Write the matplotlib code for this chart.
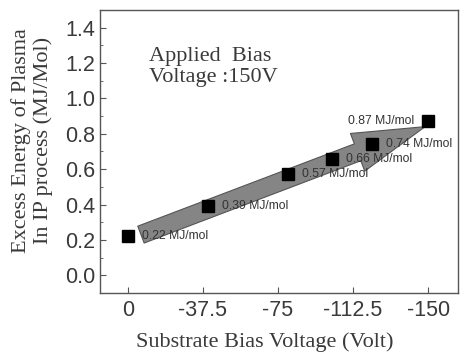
import matplotlib.pyplot as plt
from matplotlib.patches import FancyArrowPatch
from matplotlib.ticker import MultipleLocator

# data
bias_volt = [0, -40, -80, -102, -122, -150]
excess_energy = [0.22, 0.39, 0.57, 0.66, 0.74, 0.87]
point_labels = ["0.22 MJ/mol", "0.39 MJ/mol", "0.57 MJ/mol",
                "0.66 MJ/mol", "0.74 MJ/mol", "0.87 MJ/mol"]
xtick_vals = [0, -37.5, -75, -112.5, -150]
xtick_labels = ["0", "-37.5", "-75", "-112.5", "-150"]
ytick_vals = [0.0, 0.2, 0.4, 0.6, 0.8, 1.0, 1.2, 1.4]

serif = ["Liberation Serif", "DejaVu Serif"]
sans = ["Liberation Sans", "DejaVu Sans"]
txt_col = "#3a3a3a"

fig = plt.figure(figsize=(4.67, 3.64), dpi=100)
ax = fig.add_axes([0.214, 0.195, 0.767, 0.778])

ax.set_xlim(14, -165)
ax.set_ylim(-0.1, 1.5)

# big grey trend arrow
arrow = FancyArrowPatch((-6.5, 0.23), (-148.5, 0.84),
                        arrowstyle="simple,head_length=52,head_width=29,tail_width=13",
                        mutation_scale=1, shrinkA=0, shrinkB=0,
                        facecolor="#858585", edgecolor="#555555", linewidth=0.8, zorder=2)
ax.add_patch(arrow)

ax.plot(bias_volt, excess_energy, linestyle="none", marker="s", markersize=8,
        color="black", zorder=4)

# point labels: last one sits to the left of its marker
for i, (x, y, lab) in enumerate(zip(bias_volt, excess_energy, point_labels)):
    if i == len(bias_volt) - 1:
        ax.text(x + 7, y, lab, ha="right", va="center", fontsize=8.7,
                family=sans, color="#333333", zorder=5)
    else:
        ax.text(x - 7, y, lab, ha="left", va="center", fontsize=8.7,
                family=sans, color="#333333", zorder=5)

ax.text(-10.5, 1.29, "Applied  Bias\nVoltage :150V", ha="left", va="top",
        fontsize=16, family=serif, color=txt_col, linespacing=1.15)

ax.set_xticks(xtick_vals)
ax.set_xticklabels(xtick_labels)
ax.set_yticks(ytick_vals)
ax.yaxis.set_minor_locator(MultipleLocator(0.1))
ax.tick_params(direction="in", length=4, width=0.8, colors="#555555",
               labelcolor=txt_col, labelsize=15.5)
ax.tick_params(axis="x", pad=5)
ax.tick_params(which="minor", direction="in", length=2, width=0.6, colors="#555555")
for lab in ax.get_xticklabels() + ax.get_yticklabels():
    lab.set_family(sans)

for sp in ax.spines.values():
    sp.set_color("#555555")
    sp.set_linewidth(1.0)

ax.set_xlabel("Substrate Bias Voltage (Volt)", fontsize=16, family=serif,
              color=txt_col)
ax.set_ylabel("Excess Energy of Plasma\nIn IP process (MJ/Mol)", fontsize=16,
              family=serif, color=txt_col, linespacing=1.15)
ax.xaxis.set_label_coords(0.46, -0.14)
ax.yaxis.set_label_coords(-0.13, 0.54)

fig.savefig("out.png", dpi=100)
